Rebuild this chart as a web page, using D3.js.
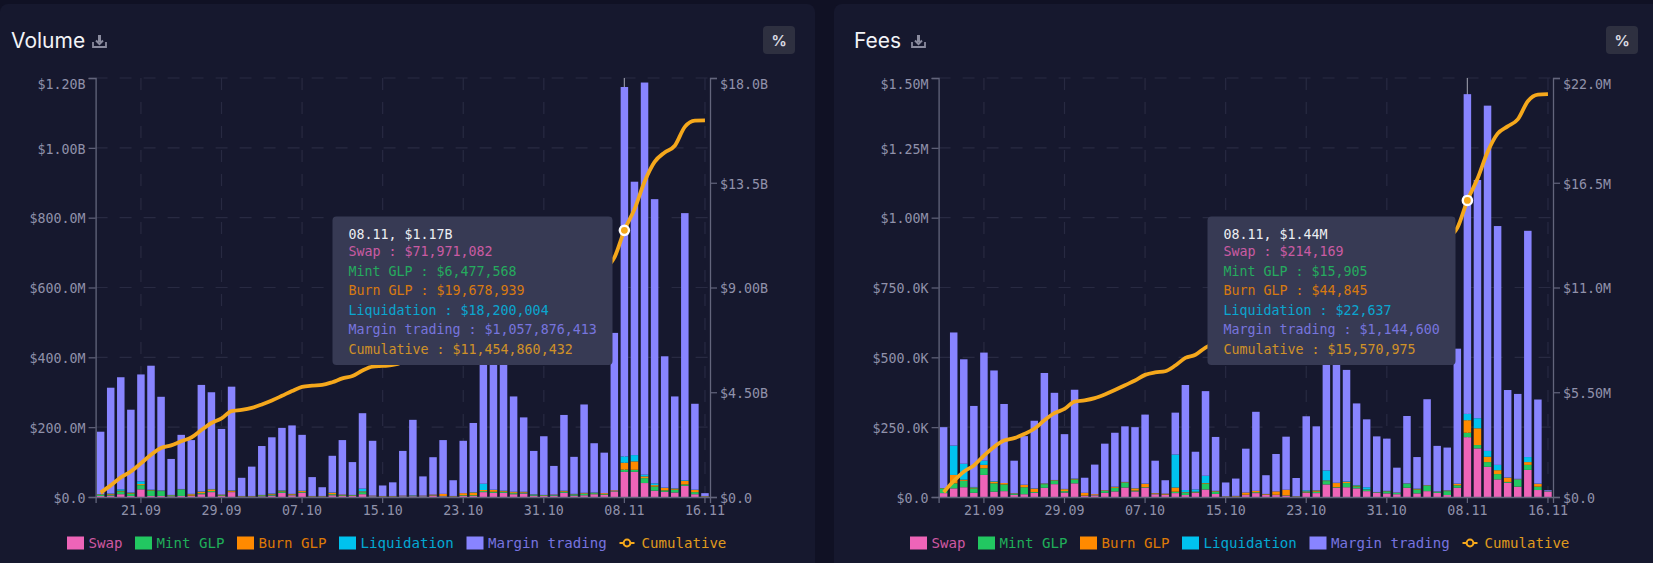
<!DOCTYPE html>
<html>
<head>
<meta charset="utf-8">
<script src="https://cdn.jsdelivr.net/npm/d3@7"></script>
<style>
  html, body { margin: 0; padding: 0; background: #101124; }
  svg { display: block; }
  text { font-family: "DejaVu Sans Mono", monospace; }
  text.title, text.pct { font-family: "Inter", sans-serif; }
</style>
</head>
<body>
<div id="chart"></div>
<script>
var days = ["17.09","18.09","19.09","20.09","21.09","22.09","23.09","24.09","25.09","26.09","27.09","28.09","29.09","30.09",
  "01.10","02.10","03.10","04.10","05.10","06.10","07.10","08.10","09.10","10.10","11.10","12.10","13.10","14.10","15.10","16.10",
  "17.10","18.10","19.10","20.10","21.10","22.10","23.10","24.10","25.10","26.10","27.10","28.10","29.10","30.10","31.10",
  "01.11","02.11","03.11","04.11","05.11","06.11","07.11","08.11","09.11","10.11","11.11","12.11","13.11","14.11","15.11","16.11"];
var xTicks = ["21.09","29.09","07.10","15.10","23.10","31.10","08.11","16.11"];
var hoverDay = "08.11";

var seriesNames = ["Swap","Mint GLP","Burn GLP","Liquidation","Margin trading"];
var seriesColors = ["#ee64b8","#22c761","#ff8a00","#00c2ee","#8884ff"];
var lineColor = "#f5a81c";

// Volume, values in millions of dollars
var volSwap = [3,4,8,3,22,3,3,2,3,3,8,14,3,14,1,1,2,4,12,5,12,1,1,5,3,3,8,2,1,1,2,2,2,4,2,1,3,3,14,12,12,8,10,4,3,4,12,4,5,8,6,16,71.971082,72,40,18,15,13,32,8,1];
var volMint = [4,3,8,7,12,16,14,3,18,1,3,3,2,1,1,1,3,3,4,2,2,1,1,3,2,2,6,1,1,1,1,1,1,1,1,1,2,2,3,3,3,3,2,2,2,2,3,3,4,3,2,1,6.477568,6,14,12,4,8,4,6,1];
var volBurn = [1,2,2,2,3,1,1,1,1,4,4,5,2,3,1,1,1,2,2,2,3,1,1,4,2,1,2,1,1,1,1,1,1,2,6,1,6,8,3,5,2,3,2,1,1,1,2,1,2,1,3,2,19.678939,24,5,4,7,3,10,6,1];
var volLiq = [0,1,4,1,8,1,1,0,1,1,1,1,0,1,0,0,0,1,1,0,1,0,0,1,0,0,8,0,0,0,0,1,0,0,0,0,0,1,18,1,1,1,1,1,0,0,1,1,1,1,0,0,18.200004,18,5,5,1,1,2,1,0];
var volMargin = [179,303,321,237,306,355,268,103,155,154,305,277,188,297,52,84,140,161,179,196,160,54,25,105,156,94,216,157,30,39,128,216,55,107,154,45,150,198,347,429,370,273,213,124,168,82,217,106,253,141,116,451,1057.876413,783,1123,814,376,263,765,246,8];
var volCum = [187,500,843,1093,1444,1820,2107,2216,2394,2557,2878,3178,3373,3689,3744,3831,3977,4148,4346,4551,4729,4786,4814,4932,5095,5195,5435,5596,5629,5671,5803,6024,6083,6197,6360,6408,6569,6781,7166,7616,8004,8292,8520,8652,8826,8915,9150,9265,9530,9684,9811,10281,11454.860432,12358,13545,14398,14801,15089,15902,16169,16180];
var volLeftTicks = [0,200,400,600,800,1000,1200];
var volLeftLabels = ["$0.0","$200.0M","$400.0M","$600.0M","$800.0M","$1.00B","$1.20B"];
var volRightTicks = [0,4500,9000,13500,18000];
var volRightLabels = ["$0.0","$4.50B","$9.00B","$13.5B","$18.0B"];

// Fees, values in thousands of dollars
var feeSwap = [14,31,35,15,79,19,21,8,10,15,33,46,16,49,4,6,15,20,34,20,33,10,8,14,7,15,27,11,1,1,7,14,8,7,5,1,15,14,45,33,35,31,21,15,13,10,33,13,21,15,7,33,214.169,174,108,63,51,37,97,25,18];
var feeMint = [17,18,23,16,24,30,24,3,25,3,13,12,5,14,1,1,7,13,17,3,2,2,1,5,8,2,21,8,1,1,1,3,1,1,1,1,2,5,12,2,15,7,5,1,7,5,14,14,19,3,14,9,15.905,12,17,19,3,24,18,12,1];
var feeBurn = [1,30,4,3,12,6,5,2,8,12,2,2,7,2,10,3,2,3,2,8,12,2,3,15,2,2,2,2,1,2,8,5,2,12,20,1,3,4,2,15,4,3,1,1,1,1,1,2,2,1,2,5,44.845,60,19,14,15,2,10,10,1];
var feeLiq = [0,105,57,2,15,2,0,1,1,1,1,1,1,1,0,0,0,1,1,1,1,0,0,118,8,8,26,1,0,0,0,0,0,0,0,0,4,1,36,1,2,2,8,1,1,0,1,1,1,1,1,1,22.637,36,21,19,1,2,18,1,0];
var feeMargin = [218,405,374,290,387,396,283,116,174,242,395,312,196,318,54,106,167,193,199,218,247,116,48,150,376,135,303,193,49,62,157,283,67,134,190,65,265,229,445,550,399,292,243,199,187,89,241,113,307,163,153,483,1144.6,853,1236,855,313,304,810,301,4];
var feeCum = [250,839,1332,1658,2175,2628,2961,3091,3309,3582,4026,4399,4624,5008,5077,5193,5384,5614,5867,6117,6412,6542,6602,6904,7305,7467,7846,8061,8113,8179,8352,8657,8735,8889,9105,9173,9462,9715,10255,10856,11311,11646,11924,12141,12350,12455,12745,12888,13238,13421,13598,14129,15570.975,16706,18107,19077,19460,19829,20782,21131,21155];
var feeLeftTicks = [0,250,500,750,1000,1250,1500];
var feeLeftLabels = ["$0.0","$250.0K","$500.0K","$750.0K","$1.00M","$1.25M","$1.50M"];
var feeRightTicks = [0,5500,11000,16500,22000];
var feeRightLabels = ["$0.0","$5.50M","$11.0M","$16.5M","$22.0M"];

var margin = { top: 78, bottom: 66, left: 95.6 };
var panelWidth = 815,
    chartWidth = panelWidth - margin.left - 105,
    height = 563;
var plotBottom = height - margin.bottom;

var svg = d3.select("#chart").append("svg")
    .attr("width", 1653)
    .attr("height", height);

svg.append("rect").attr("width", 1653).attr("height", height).attr("fill", "#101124");

function drawPanel(offset, panelLeft, width, title, iconX, unit, sets, cum, leftTicks, leftLabels, rightTicks, rightLabels, head) {
  var g = svg.append("g").attr("transform", "translate(" + offset + ",0)");

  g.append("rect")
      .attr("x", panelLeft).attr("y", 4)
      .attr("width", width).attr("height", height + 10)
      .attr("rx", 8)
      .attr("fill", "#16182e");

  //title and icon
  g.append("text").attr("class", "title")
      .attr("x", 11).attr("y", 48)
      .attr("font-size", 21)
      .attr("fill", "#f2f3f7")
      .text(title);

  var icon = g.append("g").attr("transform", "translate(" + iconX + ",34)")
      .attr("fill", "none").attr("stroke", "#8a8b9e").attr("stroke-width", 1.8);
  icon.append("path").attr("d", "M1 8 V13 H14 V8");
  icon.append("path").attr("d", "M7.5 1 V8").attr("stroke-width", 3);
  icon.append("path").attr("d", "M4 6.5 L7.5 10 L11 6.5").attr("stroke-width", 2);

  g.append("rect")
      .attr("x", 763).attr("y", 26)
      .attr("width", 32).attr("height", 28)
      .attr("rx", 4)
      .attr("fill", "#2e3040");
  g.append("text").attr("class", "pct")
      .attr("x", 779).attr("y", 46)
      .attr("text-anchor", "middle")
      .attr("font-size", 15)
      .attr("font-weight", "bold")
      .attr("fill", "#d8d9e0")
      .text("%");

  //scales
  var x = d3.scaleBand()
      .domain(days)
      .range([margin.left, margin.left + chartWidth])
      .paddingInner(0.255)
      .paddingOuter(0.1275);
  var yLeft = d3.scaleLinear()
      .domain([0, leftTicks[leftTicks.length - 1]])
      .range([plotBottom, margin.top]);
  var yRight = d3.scaleLinear()
      .domain([0, rightTicks[rightTicks.length - 1]])
      .range([plotBottom, margin.top]);

  //grid
  var grid = g.append("g")
      .attr("stroke", "#282a42")
      .attr("stroke-width", 1.2)
      .attr("stroke-dasharray", "12 12");
  grid.selectAll(".h").data(leftTicks).enter().append("line")
      .attr("x1", margin.left).attr("x2", margin.left + chartWidth)
      .attr("y1", function(d) { return yLeft(d); })
      .attr("y2", function(d) { return yLeft(d); });
  grid.selectAll(".v").data(xTicks).enter().append("line")
      .attr("x1", function(d) { return x(d) + x.bandwidth() / 2; })
      .attr("x2", function(d) { return x(d) + x.bandwidth() / 2; })
      .attr("y1", margin.top).attr("y2", plotBottom);

  //hover cursor
  var hoverX = x(hoverDay) + x.bandwidth() / 2;
  g.append("line")
      .attr("x1", hoverX).attr("x2", hoverX)
      .attr("y1", margin.top).attr("y2", plotBottom)
      .attr("stroke", "#8d8e9c")
      .attr("stroke-width", 1.2);

  //stacked bars
  var rows = days.map(function(day, i) {
    var row = { day: day };
    seriesNames.forEach(function(name, s) { row[name] = sets[s][i]; });
    return row;
  });
  var stacked = d3.stack().keys(seriesNames)(rows);

  g.selectAll(".layer").data(stacked).enter().append("g")
      .attr("fill", function(d, i) { return seriesColors[i]; })
      .selectAll("rect").data(function(d) { return d; }).enter().append("rect")
      .attr("x", function(d) { return x(d.data.day); })
      .attr("width", x.bandwidth())
      .attr("y", function(d) { return yLeft(d[1]); })
      .attr("height", function(d) { return yLeft(d[0]) - yLeft(d[1]); });

  //axes
  var tickColor = "#9091aa";
  function styleAxis(a) {
    a.selectAll("path").attr("stroke", "#63657c").attr("stroke-width", 1.3);
    a.selectAll("line").attr("stroke", "#63657c").attr("stroke-width", 1.2);
    a.selectAll("text")
        .attr("fill", tickColor)
        .attr("font-size", 13.3);
  }

  var leftAxis = g.append("g")
      .attr("transform", "translate(" + margin.left + ",0)")
      .call(d3.axisLeft(yLeft).tickValues(leftTicks).tickSize(7).tickPadding(3)
        .tickFormat(function(d, i) { return leftLabels[i]; }));
  styleAxis(leftAxis);
  leftAxis.selectAll(".tick text")
      .attr("y", function(d) { return d == leftTicks[leftTicks.length - 1] ? 6 : 1; });

  var rightAxis = g.append("g")
      .attr("transform", "translate(" + (margin.left + chartWidth) + ",0)")
      .call(d3.axisRight(yRight).tickValues(rightTicks).tickSize(7).tickPadding(3)
        .tickFormat(function(d, i) { return rightLabels[i]; }));
  styleAxis(rightAxis);
  rightAxis.selectAll(".tick text")
      .attr("y", function(d) { return d == rightTicks[rightTicks.length - 1] ? 6 : 1; });

  var bottomAxis = g.append("g")
      .attr("transform", "translate(0," + plotBottom + ")")
      .call(d3.axisBottom(x).tickValues(xTicks).tickSize(6).tickPadding(3));
  styleAxis(bottomAxis);

  //cumulative line
  var line = d3.line()
      .x(function(d, i) { return x(days[i]) + x.bandwidth() / 2; })
      .y(function(d) { return yRight(d); })
      .curve(d3.curveMonotoneX);
  g.append("path")
      .datum(cum)
      .attr("d", line)
      .attr("fill", "none")
      .attr("stroke", lineColor)
      .attr("stroke-width", 3.8);

  var hoverIndex = days.indexOf(hoverDay);
  g.append("circle")
      .attr("cx", hoverX)
      .attr("cy", yRight(cum[hoverIndex]))
      .attr("r", 4.6)
      .attr("fill", lineColor)
      .attr("stroke", "#ffffff")
      .attr("stroke-width", 2.4);

  //tooltip
  var money = d3.format("$,.0f");
  var lines = seriesNames.map(function(name, s) {
    return { text: name + " : " + money(sets[s][hoverIndex] * unit), color: seriesColors[s] };
  });
  lines.push({ text: "Cumulative : " + money(cum[hoverIndex] * unit), color: lineColor });
  var longest = d3.max(lines, function(d) { return d.text.length; });
  var tipWidth = longest * 8 + 32,
      tipRight = 612.5;

  g.append("rect")
      .attr("x", tipRight - tipWidth).attr("y", 216.5)
      .attr("width", tipWidth).attr("height", 148.5)
      .attr("rx", 4)
      .attr("fill", "#373a54");
  g.append("text")
      .attr("x", tipRight - tipWidth + 16).attr("y", 238.5)
      .attr("font-size", 13.3)
      .attr("fill", "#eceef2")
      .text(head);
  g.selectAll(".tipline").data(lines).enter().append("text")
      .attr("x", tipRight - tipWidth + 16)
      .attr("y", function(d, i) { return 256 + i * 19.5; })
      .attr("font-size", 13.3)
      .attr("fill", function(d) { return d.color; })
      .attr("opacity", 0.8)
      .text(function(d) { return d.text; });

  //legend
  var lx = 67;
  seriesNames.forEach(function(name, s) {
    g.append("rect")
        .attr("x", lx).attr("y", 536.5)
        .attr("width", 17).attr("height", 13)
        .attr("fill", seriesColors[s]);
    g.append("text")
        .attr("x", lx + 21.5).attr("y", 548)
        .attr("font-size", 14.1)
        .attr("fill", seriesColors[s])
        .attr("opacity", 0.85)
        .text(name);
    lx += 21.5 + name.length * 8.5 + 12.5;
  });
  g.append("line")
      .attr("x1", lx).attr("x2", lx + 15)
      .attr("y1", 543).attr("y2", 543)
      .attr("stroke", lineColor).attr("stroke-width", 2);
  g.append("circle")
      .attr("cx", lx + 7.5).attr("cy", 543).attr("r", 3.4)
      .attr("fill", "#16182e").attr("stroke", lineColor).attr("stroke-width", 2);
  g.append("text")
      .attr("x", lx + 22).attr("y", 548)
      .attr("font-size", 14.1)
      .attr("fill", lineColor)
      .attr("opacity", 0.9)
      .text("Cumulative");
}

drawPanel(0, 0, panelWidth, "Volume", 92, 1e6,
  [volSwap, volMint, volBurn, volLiq, volMargin], volCum,
  volLeftTicks, volLeftLabels, volRightTicks, volRightLabels, "08.11, $1.17B");

drawPanel(843, -9, 830, "Fees", 68, 1e3,
  [feeSwap, feeMint, feeBurn, feeLiq, feeMargin], feeCum,
  feeLeftTicks, feeLeftLabels, feeRightTicks, feeRightLabels, "08.11, $1.44M");
</script>
</body>
</html>
